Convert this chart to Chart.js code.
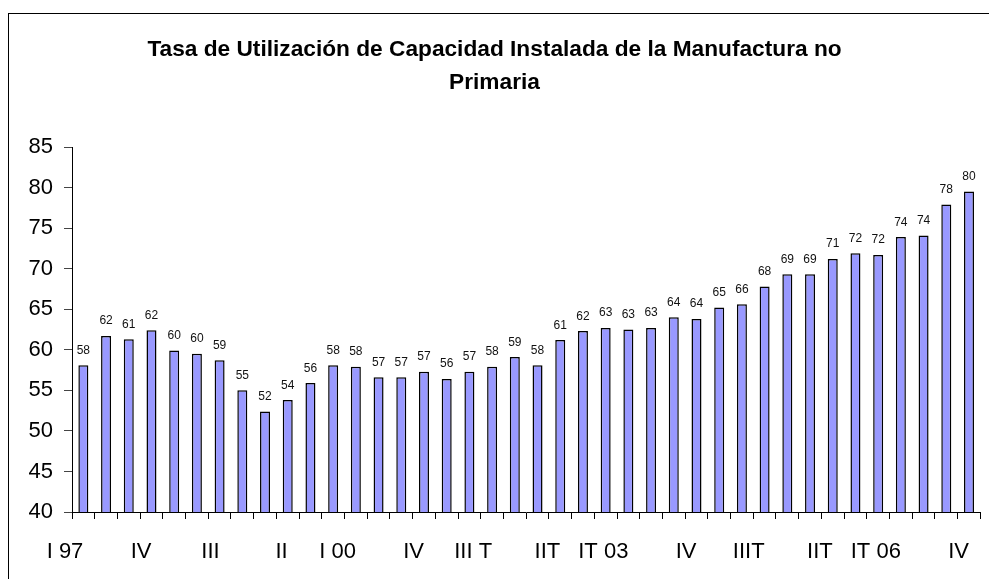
<!DOCTYPE html>
<html>
<head>
<meta charset="utf-8">
<script src="https://cdn.jsdelivr.net/npm/chart.js@4.4.1/dist/chart.umd.min.js"></script>
<style>
    html, body { margin: 0; padding: 0; background: #fff; overflow: hidden; }
    #wrap { position: relative; width: 989px; height: 579px; }
    #frame { position: absolute; left: 8px; top: 13px; width: 1200px; height: 800px; border-left: 1px solid #000; border-top: 1px solid #000; }
    canvas { position: absolute; left: 0; top: 0; }
</style>
</head>
<body>
<div id="wrap">
    <div id="frame"></div>
    <canvas id="capChart" width="989" height="579"></canvas>
</div>
<script>
// Tasa de utilización por trimestre, I 97 a IV 06
const tickLabels = [
    'I 97', '', '', 'IV', '', '', 'III', '', '', 'II',
    '', '', 'I 00', '', '', 'IV', '', '', 'III T', '',
    '', 'IIT', '', '', 'IT 03', '', '', 'IV', '', '',
    'IIIT', '', '', 'IIT', '', '', 'IT 06', '', '', 'IV'
];
const tasa = [
    58.1, 61.7, 61.3, 62.4, 59.9, 59.5, 58.7, 55.0, 52.4, 53.8,
    55.9, 58.1, 57.9, 56.6, 56.6, 57.3, 56.4, 57.3, 57.9, 59.1,
    58.1, 61.2, 62.3, 62.7, 62.5, 62.7, 64.0, 63.8, 65.2, 65.6,
    67.8, 69.3, 69.3, 71.2, 71.9, 71.7, 73.9, 74.1, 77.9, 79.5
];
const yTicks = [40, 45, 50, 55, 60, 65, 70, 75, 80, 85];

const FONT = "'Liberation Sans', Arial, sans-serif";

// etiquetas de valor sobre cada barra
const valueLabels = {
    id: 'valueLabels',
    afterDatasetsDraw(chart) {
        const ctx = chart.ctx;
        const meta = chart.getDatasetMeta(0);
        ctx.save();
        ctx.font = '12px ' + FONT;
        ctx.fillStyle = '#111';
        ctx.textAlign = 'center';
        ctx.textBaseline = 'alphabetic';
        meta.data.forEach((bar, i) => {
            ctx.fillText(String(Math.round(tasa[i])), bar.x, bar.y - 11.5);
        });
        ctx.restore();
    }
};

new Chart(document.getElementById('capChart').getContext('2d'), {
    type: 'bar',
    data: {
        labels: tickLabels,
        datasets: [{
            data: tasa,
            backgroundColor: '#9999ff',
            borderColor: '#000',
            borderWidth: 1.5,
            barPercentage: 0.44,
            categoryPercentage: 1
        }]
    },
    options: {
        responsive: false,
        animation: false,
        layout: { padding: { left: 0, right: 0, top: 0, bottom: 0 } },
        plugins: {
            legend: { display: false },
            tooltip: { enabled: false },
            title: {
                display: true,
                text: ['Tasa de Utilización de Capacidad Instalada de la Manufactura no', 'Primaria'],
                color: '#000',
                font: { family: FONT, size: 22.7, weight: 'bold', lineHeight: '33px' },
                padding: { top: 33, bottom: 48 }
            }
        },
        scales: {
            x: {
                offset: true,
                grid: { drawOnChartArea: false, offset: true, tickLength: 7, color: '#000' },
                border: { color: '#000', width: 1 },
                ticks: {
                    autoSkip: false,
                    maxRotation: 0,
                    align: 'end',
                    padding: 20,
                    color: '#000',
                    font: { family: FONT, size: 22 }
                },
                afterFit(scale) { scale.height = 67; }
            },
            y: {
                min: 40,
                max: 85,
                afterBuildTicks(scale) { scale.ticks = yTicks.map(v => ({ value: v })); },
                grid: { drawOnChartArea: false, tickLength: 8, color: '#444' },
                border: { color: '#000', width: 1 },
                ticks: {
                    padding: 11,
                    color: '#000',
                    font: { family: FONT, size: 22 }
                },
                afterFit(scale) { scale.width = 72; }
            }
        }
    },
    plugins: [valueLabels]
});
</script>
</body>
</html>
